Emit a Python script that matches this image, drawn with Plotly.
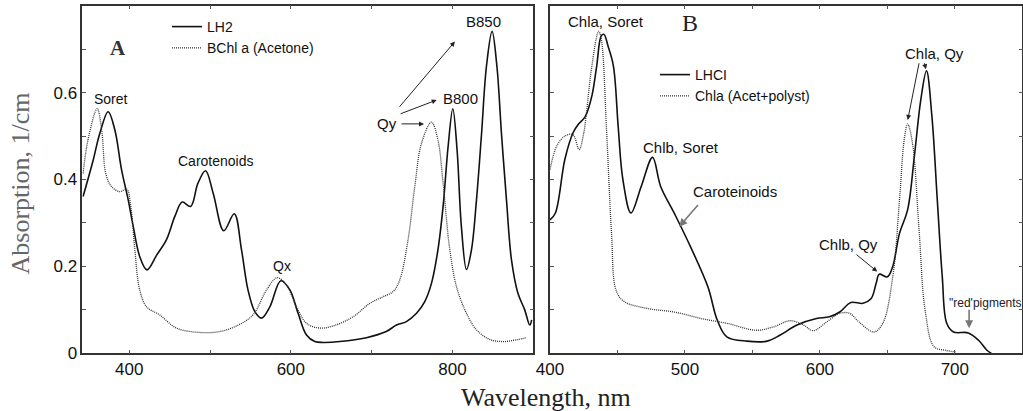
import plotly.graph_objects as go

# ---------------- Panel A data ----------------
lh2_nm = [343, 355.5, 363.8, 374, 382.3, 390.6, 398.8, 405, 413, 422, 434, 446, 456.5, 465.6, 476, 485,
          494.5, 504, 517, 530, 539, 547, 555.5, 563.8, 574, 587.6, 598.8, 609, 619.4, 629.7, 640, 660.6,
          693.6, 718, 730.7, 743, 755.5, 765.7, 774, 782, 788.4, 794.6, 800.4, 805.7, 811, 817.3, 823.5,
          829.7, 836, 842, 849, 855, 860.6, 866.8, 873, 881, 889.4, 895.6, 898]
lh2_abs = [0.361, 0.445, 0.507, 0.556, 0.514, 0.422, 0.353, 0.292, 0.223, 0.192, 0.226, 0.261, 0.315, 0.348,
           0.338, 0.391, 0.42, 0.368, 0.282, 0.321, 0.238, 0.146, 0.096, 0.081, 0.107, 0.167, 0.146, 0.092,
           0.042, 0.027, 0.025, 0.027, 0.036, 0.05, 0.065, 0.073, 0.092, 0.119, 0.161, 0.238, 0.338, 0.476,
           0.563, 0.468, 0.292, 0.193, 0.238, 0.353, 0.506, 0.66, 0.741, 0.66, 0.506, 0.353, 0.215, 0.138,
           0.1, 0.065, 0.077]

bchl_nm = [343, 349, 360.4, 366, 371, 378, 388.5, 396.8, 402, 407, 413, 421.5, 438, 458.6, 487.4, 512,
           532.8, 553, 570, 583, 594.7, 607, 619.4, 636, 652.3, 677, 697.7, 714, 726.5, 734.8, 745, 753.4,
           761.6, 774, 782, 788.4, 796.7, 805, 817.3, 829.7, 846, 862.6, 879, 891.5]
bchl_abs = [0.414, 0.491, 0.563, 0.514, 0.414, 0.384, 0.372, 0.378, 0.338, 0.238, 0.146, 0.107, 0.088,
            0.058, 0.048, 0.05, 0.063, 0.088, 0.146, 0.174, 0.157, 0.107, 0.069, 0.058, 0.063, 0.084,
            0.115, 0.13, 0.142, 0.169, 0.261, 0.384, 0.483, 0.532, 0.491, 0.391, 0.238, 0.153, 0.092,
            0.054, 0.032, 0.027, 0.031, 0.036]

# ---------------- Panel B data ----------------
lhci_nm = [400, 404, 411, 417, 421, 426, 431, 434.6, 438, 440, 443, 447, 450.5, 454, 460, 467.6, 476, 482,
           492, 504, 517, 524, 531, 546, 561, 570.6, 583, 597.5, 607, 614.7, 623, 632, 638, 641.7, 644,
           650, 654, 659, 665, 670, 674.8, 679, 683, 687, 690.7, 694, 699, 710, 717.6, 723.8, 727]
lhci_abs = [0.307, 0.323, 0.446, 0.507, 0.527, 0.544, 0.592, 0.661, 0.731, 0.734, 0.707, 0.661, 0.523,
            0.4, 0.323, 0.384, 0.451, 0.384, 0.323, 0.246, 0.153, 0.076, 0.038, 0.028, 0.028, 0.042,
            0.065, 0.08, 0.084, 0.095, 0.117, 0.115, 0.126, 0.161, 0.182, 0.176, 0.2, 0.276, 0.33,
            0.453, 0.584, 0.65, 0.546, 0.353, 0.176, 0.069, 0.049, 0.047, 0.03, 0.007, 0.0]

chla_nm = [400, 405, 411, 417, 421.6, 425, 427, 431, 436, 438, 442, 445.6, 449, 455, 472.5, 492, 512,
           531, 553, 565.7, 578, 588, 595, 605, 614.7, 622, 629, 640, 646.6, 654, 659, 662.5, 665,
           668.6, 673.5, 678, 684.6, 693, 700.5]
chla_abs = [0.423, 0.477, 0.5, 0.503, 0.469, 0.507, 0.553, 0.661, 0.741, 0.723, 0.507, 0.276, 0.145,
            0.119, 0.103, 0.095, 0.08, 0.069, 0.053, 0.061, 0.075, 0.065, 0.052, 0.072, 0.092, 0.092,
            0.072, 0.049, 0.069, 0.176, 0.353, 0.492, 0.528, 0.484, 0.284, 0.099, 0.015, 0.007, 0.003]

y_ticks = [0, 0.2, 0.4, 0.6]
a_ticks = [400, 600, 800]
b_ticks = [400, 500, 600, 700]

SANS = "Liberation Sans, Arial, sans-serif"
SERIF = "Liberation Serif, Times New Roman, serif"
SOLID = dict(color="#111111", width=1.6)
DOT = dict(color="#333333", width=1.3, dash="1px,1px")

fig = go.Figure()
fig.add_trace(go.Scatter(x=lh2_nm, y=lh2_abs, mode="lines", line=SOLID, name="LH2",
                         line_shape="spline", xaxis="x", yaxis="y", legend="legend"))
fig.add_trace(go.Scatter(x=bchl_nm, y=bchl_abs, mode="lines", line=DOT, name="BChl a (Acetone)",
                         line_shape="spline", xaxis="x", yaxis="y", legend="legend"))
fig.add_trace(go.Scatter(x=lhci_nm, y=lhci_abs, mode="lines", line=SOLID, name="LHCI",
                         line_shape="spline", xaxis="x2", yaxis="y2", legend="legend2"))
fig.add_trace(go.Scatter(x=chla_nm, y=chla_abs, mode="lines", line=DOT, name="Chla (Acet+polyst)",
                         line_shape="spline", xaxis="x2", yaxis="y2", legend="legend2"))

W, H = 1023, 411
ydom = [(H - 353.3) / H, (H - 5.7) / H]

axis_common = dict(showline=True, linecolor="#333333", linewidth=1.5, mirror="allticks",
                   ticks="inside", ticklen=4, tickcolor="#555555", showgrid=False, zeroline=False,
                   tickfont=dict(family=SANS, size=17, color="#111111"), automargin=False)

fig.update_layout(
    width=W, height=H, margin=dict(l=0, r=0, t=0, b=0),
    paper_bgcolor="white", plot_bgcolor="white",
    xaxis=dict(domain=[82.3 / W, 533.3 / W], range=[342, 900], tickvals=a_ticks,
               minor=dict(dtick=100, tick0=0, ticks="inside", ticklen=4, tickcolor="#555555"),
               anchor="y", **axis_common),
    yaxis=dict(domain=ydom, range=[0, 0.8], tickvals=y_ticks,
               minor=dict(dtick=0.1, tick0=0, ticks="inside", ticklen=4, tickcolor="#555555"),
               anchor="x", **axis_common),
    xaxis2=dict(domain=[550 / W, 1022.3 / W], range=[400, 750], tickvals=b_ticks,
                minor=dict(dtick=50, tick0=0, ticks="inside", ticklen=4, tickcolor="#555555"),
                anchor="y2", **axis_common),
    yaxis2=dict(domain=ydom, range=[0, 0.8], tickvals=y_ticks, showticklabels=False,
                minor=dict(dtick=0.1, tick0=0, ticks="inside", ticklen=4, tickcolor="#555555"),
                anchor="x2", **axis_common),
    legend=dict(x=167 / W, y=(H - 11) / H, xanchor="left", yanchor="top", bgcolor="rgba(0,0,0,0)",
                font=dict(family=SANS, size=14, color="#111111"), tracegroupgap=0),
    legend2=dict(x=655 / W, y=(H - 59) / H, xanchor="left", yanchor="top", bgcolor="rgba(0,0,0,0)",
                 font=dict(family=SANS, size=14, color="#111111"), tracegroupgap=0),
    showlegend=True,
)

def label(text, x, y, xref, yref, size=14, family=SANS, color="#111111", xanchor="center", **kw):
    fig.add_annotation(text=text, x=x, y=y, xref=xref, yref=yref, showarrow=False,
                       font=dict(family=family, size=size, color=color), xanchor=xanchor,
                       yanchor="middle", **kw)

def arrow(x0, y0, x1, y1, xref, yref, color="#222222", width=1):
    fig.add_annotation(text="", x=x1, y=y1, ax=x0, ay=y0, xref=xref, yref=yref,
                       axref=xref, ayref=yref, showarrow=True, arrowhead=2, arrowsize=1,
                       arrowwidth=width, arrowcolor=color)

# Panel A labels
label("<b>A</b>", 386.5, 0.702, "x", "y", size=21, family=SERIF, color="#333333")
label("Soret", 377, 0.586, "x", "y")
label("Carotenoids", 507, 0.443, "x", "y")
label("Qx", 589.5, 0.202, "x", "y")
label("Qy", 719.4, 0.53, "x", "y", size=15)
label("B800", 810, 0.586, "x", "y", size=15)
label("B850", 838, 0.7635, "x", "y", size=15)
arrow(735, 0.528, 764.8, 0.528, "x", "y")
arrow(734, 0.55, 780.5, 0.583, "x", "y")
arrow(733, 0.564, 803, 0.7175, "x", "y")

# Panel B labels
label("B", 503.7, 0.761, "x2", "y2", size=24, family=SERIF, color="#222222")
label("Chla, Soret", 441.3, 0.7635, "x2", "y2", size=15)
label("Chlb, Soret", 496.9, 0.473, "x2", "y2", size=15)
label("Caroteinoids", 537.1, 0.372, "x2", "y2", size=15)
arrow(510.6, 0.345, 495.8, 0.2915, "x2", "y2", color="#777777", width=1.6)
label("Chlb, Qy", 621.1, 0.251, "x2", "y2", size=15)
arrow(626, 0.23, 642.5, 0.188, "x2", "y2")
label("Chla, Qy", 685.3, 0.691, "x2", "y2", size=15)
arrow(673.7, 0.671, 665.1, 0.537, "x2", "y2")
arrow(677.2, 0.671, 678.6, 0.654, "x2", "y2")
label("\"red'pigments", 694.4, 0.1165, "x2", "y2", size=12, xanchor="left", color="#222222")
arrow(710.6, 0.1036, 710.6, 0.0576, "x2", "y2", color="#777777", width=1.6)

# Axis titles
fig.add_annotation(text="Absorption, 1/cm", x=20 / W, y=(H - 183.5) / H, xref="paper", yref="paper",
                   showarrow=False, textangle=-90, font=dict(family=SERIF, size=26, color="#666666"),
                   xanchor="center", yanchor="middle")
fig.add_annotation(text="Wavelength, nm", x=546 / W, y=(H - 397) / H, xref="paper", yref="paper",
                   showarrow=False, font=dict(family=SERIF, size=26, color="#222222"),
                   xanchor="center", yanchor="middle")

fig.write_html("out.html")
